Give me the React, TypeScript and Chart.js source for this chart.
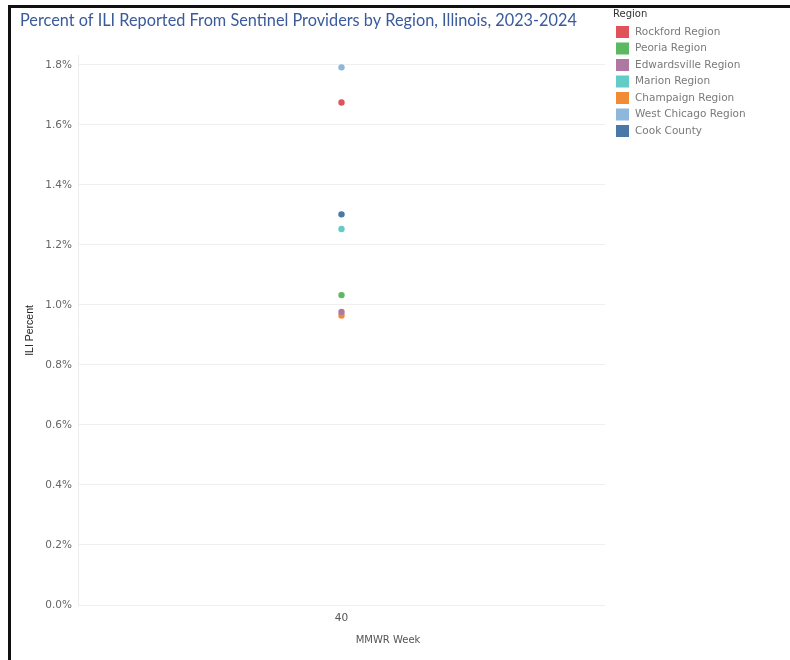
import React, { useEffect, useRef } from "react";
import { Chart, registerables } from "chart.js";

Chart.register(...registerables);

const chartTitle = "Percent of ILI Reported From Sentinel Providers by Region, Illinois, 2023-2024";
const legendTitle = "Region";
const xAxisTitle = "MMWR Week";
const yAxisTitle = "ILI Percent";

const weeks = ["40"];
const regions = [
  "Rockford Region",
  "Peoria Region",
  "Edwardsville Region",
  "Marion Region",
  "Champaign Region",
  "West Chicago Region",
  "Cook County",
];
// ILI percent at week 40, per region (same order as regions)
const rockford = [1.675];
const peoria = [1.033];
const edwardsville = [0.977];
const marion = [1.253];
const champaign = [0.965];
const westChicago = [1.792];
const cookCounty = [1.302];
const seriesValues = [rockford, peoria, edwardsville, marion, champaign, westChicago, cookCounty];
const regionColors = ["#e0535b", "#5db862", "#ae78a3", "#62cdc6", "#f28b35", "#8db8dc", "#4a78a8"];

const yMin = 0;
const yMax = 1.83;
const yTickValues = [0, 0.2, 0.4, 0.6, 0.8, 1.0, 1.2, 1.4, 1.6, 1.8];

const FONT = '"DejaVu Sans", sans-serif';

const overlayPlugin = {
  id: "regionLegend",
  afterDraw(chart: any) {
    const ctx = chart.ctx;
    ctx.save();
    ctx.textBaseline = "middle";
    ctx.textAlign = "left";
    ctx.font = `10px ${FONT}`;
    ctx.fillStyle = "#333333";
    ctx.fillText(legendTitle, 613, 14);
    ctx.font = `10.5px ${FONT}`;
    chart.data.datasets.forEach((ds: any, i: number) => {
      const y = 32 + i * 16.5;
      ctx.fillStyle = ds.backgroundColor;
      ctx.fillRect(616, y - 6, 13, 12);
      ctx.fillStyle = "#7a7a7a";
      ctx.fillText(ds.label, 635, y);
    });
    ctx.font = `10px ${FONT}`;
    ctx.fillStyle = "#555555";
    ctx.textAlign = "center";
    ctx.fillText(xAxisTitle, 388, 640);
    ctx.restore();
  },
};

export default function App() {
  const canvasRef = useRef<HTMLCanvasElement | null>(null);

  useEffect(() => {
    if (!canvasRef.current) return;
    const chart = new Chart(canvasRef.current, {
      type: "line",
      data: {
        labels: weeks,
        datasets: regions.map((name, i) => ({
          label: name,
          data: seriesValues[i],
          backgroundColor: regionColors[i],
          borderColor: regionColors[i],
          pointBackgroundColor: regionColors[i],
          pointBorderWidth: 0,
          pointRadius: 3.2,
          showLine: false,
        })),
      },
      options: {
        animation: false,
        responsive: false,
        devicePixelRatio: 1,
        layout: { padding: { left: 20, top: 0, right: 185, bottom: 0 } },
        plugins: {
          legend: { display: false },
          tooltip: { enabled: false },
          title: {
            display: true,
            text: chartTitle,
            align: "start",
            color: "#3a5a9c",
            font: { family: "Lato", size: 16.3, weight: "normal", lineHeight: 1.2 },
            padding: { top: 11, bottom: 25.4 },
          },
        },
        scales: {
          x: {
            type: "category",
            offset: true,
            grid: { display: false, drawTicks: false },
            border: { display: false },
            ticks: { color: "#555555", font: { family: FONT, size: 10.5 }, padding: 7 },
            afterFit: (scale: any) => {
              scale.height = 55;
            },
          },
          y: {
            type: "linear",
            min: yMin,
            max: yMax,
            ticks: {
              color: "#666666",
              font: { family: FONT, size: 10.5 },
              padding: 6,
              callback: (v: any) => Number(v).toFixed(1) + "%",
            },
            afterBuildTicks: (scale: any) => {
              scale.ticks = yTickValues.map((v) => ({ value: v }));
            },
            grid: { color: "#efefef", drawTicks: false },
            border: { display: true, color: "#ececec" },
            title: {
              display: true,
              text: yAxisTitle,
              color: "#222222",
              font: { family: '"Liberation Sans Narrow", "Liberation Sans", sans-serif', size: 10.5 },
              padding: { top: 4 },
            },
            afterFit: (scale: any) => {
              scale.width = 58;
            },
          },
        },
      },
      plugins: [overlayPlugin],
    } as any);
    return () => chart.destroy();
  }, []);

  return (
    <div style={{ position: "absolute", left: 0, top: 0, width: 790, height: 660, background: "#ffffff", overflow: "hidden" }}>
      <canvas ref={canvasRef} width={790} height={660} style={{ position: "absolute", left: 0, top: 0, width: 790, height: 660 }} />
      <div style={{ position: "absolute", left: 8, top: 5, width: 782, height: 3, background: "#111" }} />
      <div style={{ position: "absolute", left: 8, top: 5, width: 3, height: 655, background: "#111" }} />
    </div>
  );
}
